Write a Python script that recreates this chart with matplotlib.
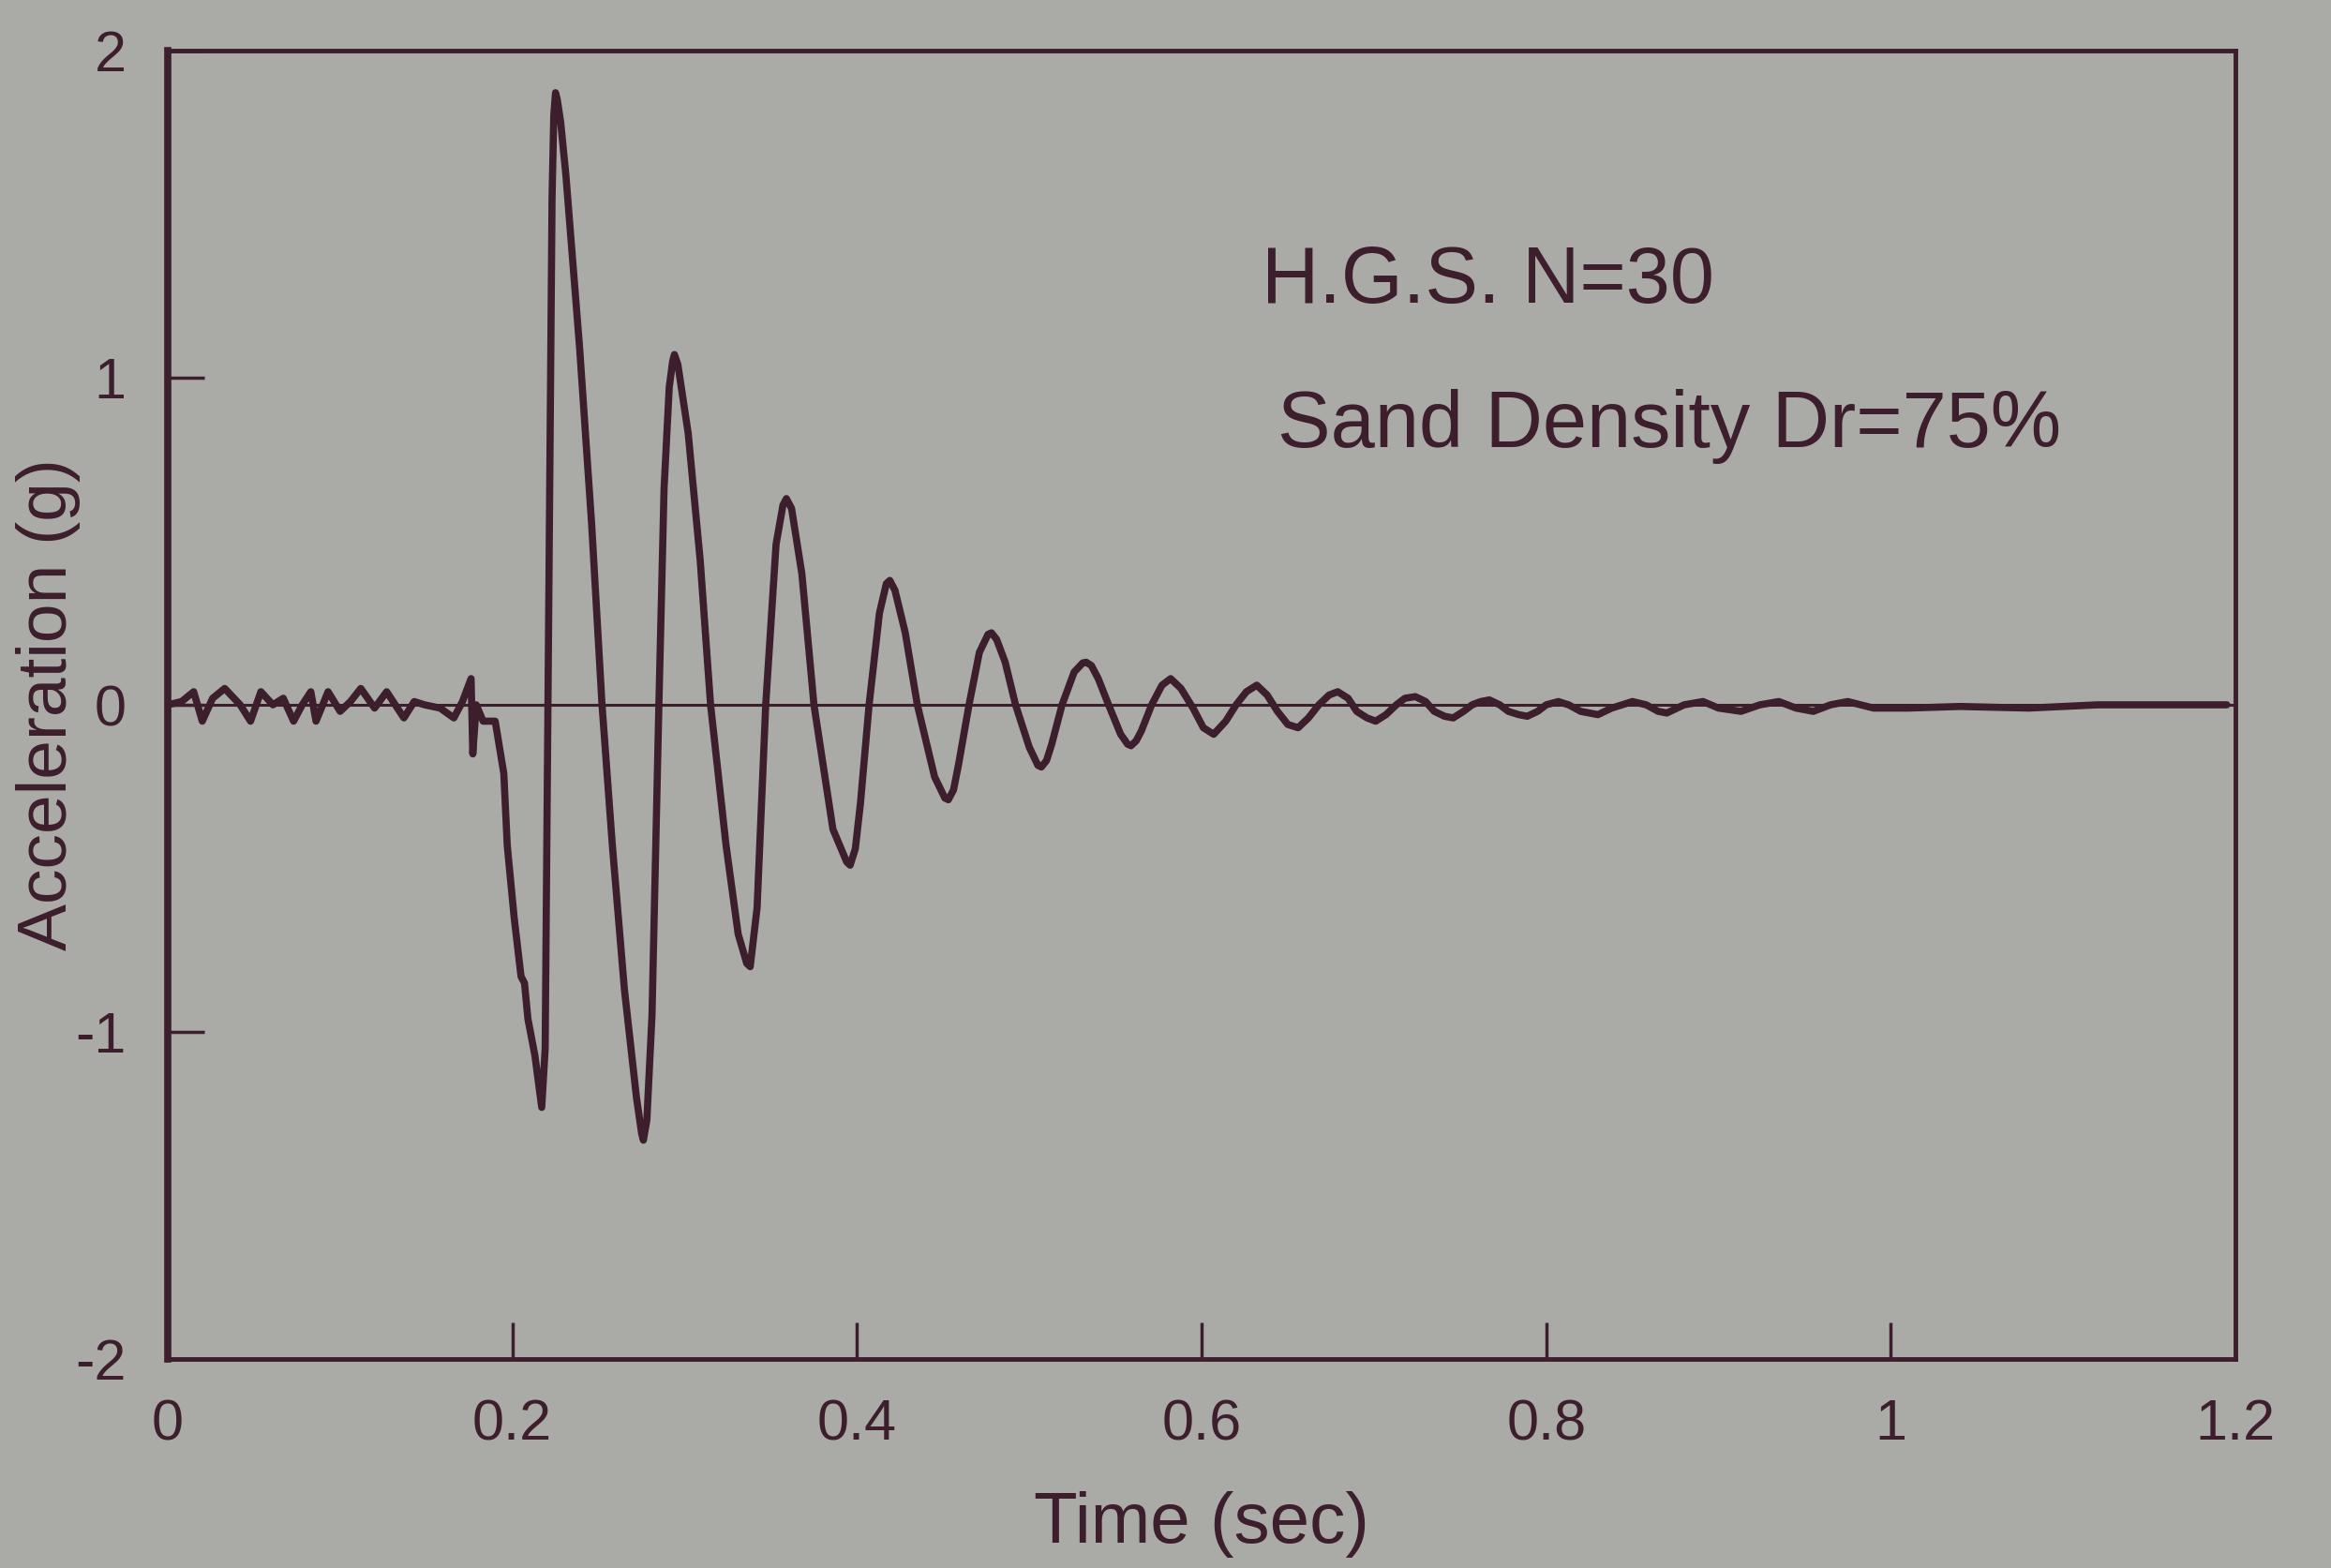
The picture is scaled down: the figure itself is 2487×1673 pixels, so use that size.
import matplotlib.pyplot as plt

# acceleration record (time in s, acceleration in g)
time_s = [
    0.000, 0.008, 0.015, 0.020, 0.026, 0.033, 0.042, 0.048, 0.054, 0.061,
    0.067, 0.073, 0.078, 0.083, 0.086, 0.093, 0.100, 0.106, 0.112, 0.120,
    0.127, 0.132, 0.137, 0.143, 0.149, 0.158, 0.166, 0.171, 0.176, 0.177,
    0.179, 0.183, 0.190,
    0.195, 0.197, 0.201, 0.205, 0.207, 0.209, 0.213, 0.216, 0.217, 0.219,
    0.220, 0.222, 0.223, 0.224, 0.225, 0.226, 0.228, 0.231, 0.239, 0.246,
    0.252, 0.258, 0.265, 0.272, 0.275, 0.276, 0.278, 0.281, 0.285, 0.288,
    0.291, 0.293, 0.294, 0.296, 0.302, 0.309, 0.315, 0.324, 0.331, 0.336,
    0.338, 0.342, 0.347, 0.353, 0.357, 0.359, 0.362, 0.368, 0.375, 0.386,
    0.394, 0.396, 0.399, 0.402, 0.407, 0.413, 0.417, 0.419, 0.422, 0.428,
    0.435, 0.445, 0.451, 0.453, 0.456, 0.459, 0.465, 0.471, 0.476, 0.478,
    0.481, 0.486, 0.492, 0.500, 0.505, 0.507, 0.510, 0.513, 0.519, 0.526,
    0.531, 0.533, 0.536, 0.540, 0.546, 0.553, 0.557, 0.559, 0.562, 0.565,
    0.571, 0.577, 0.582, 0.588, 0.595, 0.601, 0.607, 0.614, 0.620, 0.626,
    0.632, 0.638, 0.644, 0.650, 0.656, 0.662, 0.668, 0.674, 0.679, 0.685,
    0.690, 0.696, 0.701, 0.707, 0.713, 0.718, 0.724, 0.730, 0.735, 0.741,
    0.746, 0.752, 0.757, 0.762, 0.767, 0.773, 0.778, 0.784, 0.789, 0.795,
    0.800, 0.807, 0.813, 0.820, 0.830, 0.838, 0.850, 0.858, 0.865, 0.870,
    0.880, 0.891, 0.900, 0.913, 0.924, 0.935, 0.945, 0.955, 0.965, 0.975,
    0.990, 1.010, 1.040, 1.080, 1.120, 1.160, 1.195,
]
accel_g = [
    0.00, 0.01, 0.04, -0.05, 0.02, 0.05, 0.00, -0.05, 0.04, 0.00,
    0.02, -0.05, 0.00, 0.04, -0.05, 0.04, -0.02, 0.01, 0.05, -0.01,
    0.04, 0.00, -0.04, 0.01, 0.00, -0.01, -0.04, 0.01, 0.08, -0.15,
    0.00, -0.05, -0.05,
    -0.21, -0.43, -0.65, -0.83, -0.85, -0.96, -1.07, -1.19, -1.23, -1.05,
    -0.40, 0.88, 1.55, 1.80, 1.87, 1.85, 1.78, 1.62, 1.09, 0.55,
    0.00, -0.43, -0.87, -1.20, -1.31, -1.33, -1.27, -0.95, 0.00, 0.66,
    0.97, 1.05, 1.07, 1.04, 0.83, 0.44, 0.00, -0.43, -0.70, -0.79,
    -0.80, -0.62, 0.00, 0.49, 0.61, 0.63, 0.60, 0.40, 0.00, -0.38,
    -0.48, -0.49, -0.44, -0.30, 0.00, 0.28, 0.37, 0.38, 0.35, 0.22,
    0.00, -0.22, -0.285, -0.29, -0.26, -0.18, 0.00, 0.16, 0.215, 0.22,
    0.20, 0.13, 0.00, -0.13, -0.185, -0.19, -0.17, -0.12, 0.00, 0.10,
    0.128, 0.13, 0.12, 0.08, 0.00, -0.09, -0.12, -0.125, -0.11, -0.08,
    0.00, 0.06, 0.08, 0.05, -0.01, -0.07, -0.09, -0.05, 0.00, 0.04,
    0.06, 0.03, -0.02, -0.06, -0.07, -0.04, 0.00, 0.03, 0.04, 0.02,
    -0.02, -0.04, -0.05, -0.03, 0.00, 0.02, 0.025, 0.01, -0.02, -0.035,
    -0.04, -0.02, 0.00, 0.01, 0.015, 0.00, -0.02, -0.03, -0.035, -0.02,
    0.00, 0.01, 0.00, -0.02, -0.03, -0.01, 0.01, 0.00, -0.02, -0.025,
    0.00, 0.01, -0.01, -0.02, 0.00, 0.01, -0.01, -0.02, 0.00, 0.01,
    -0.01, -0.01, -0.005, -0.01, 0.00, 0.00, 0.00,
]

x_ticks = [0, 0.2, 0.4, 0.6, 0.8, 1, 1.2]
x_tick_labels = ['0', '0.2', '0.4', '0.6', '0.8', '1', '1.2']
y_ticks = [-2, -1, 0, 1, 2]
y_tick_labels = ['-2', '-1', '0', '1', '2']

ink = '#3d1e2c'
paper = '#aaaba6'

plt.rcParams['font.family'] = ['Liberation Sans', 'DejaVu Sans']

fig = plt.figure(figsize=(24.87, 16.73), dpi=100, facecolor=paper)
ax = fig.add_axes([0.072, 0.133, 0.887, 0.835])
ax.set_facecolor(paper)

ax.axhline(0, color=ink, lw=2.2, zorder=1)
ax.plot(time_s, accel_g, color=ink, lw=5.5, solid_joinstyle='round',
        solid_capstyle='round', zorder=2)

ax.set_xlim(0, 1.2)
ax.set_ylim(-2, 2)
ax.set_xticks(x_ticks)
ax.set_xticklabels(x_tick_labels)
ax.set_yticks(y_ticks)
ax.set_yticklabels(y_tick_labels)
ax.tick_params(direction='in', length=28, width=2.5, color=ink,
               labelcolor=ink, labelsize=44, top=False, right=False)
ax.tick_params(axis='x', pad=30)
ax.tick_params(axis='y', pad=32)

for side in ax.spines.values():
    side.set_color(ink)
    side.set_linewidth(3.5)
ax.spines['left'].set_linewidth(5.5)

ax.set_xlabel('Time (sec)', fontsize=55, color=ink, labelpad=30)
ax.set_ylabel('Acceleration (g)', fontsize=54, color=ink, labelpad=-4)

ax.text(0.635, 1.29, 'H.G.S. N=30', fontsize=61, color=ink, va='center')
ax.text(0.644, 0.85, 'Sand Density Dr=75%', fontsize=61, color=ink, va='center')

fig.savefig('out.png', dpi=100, facecolor=paper)
